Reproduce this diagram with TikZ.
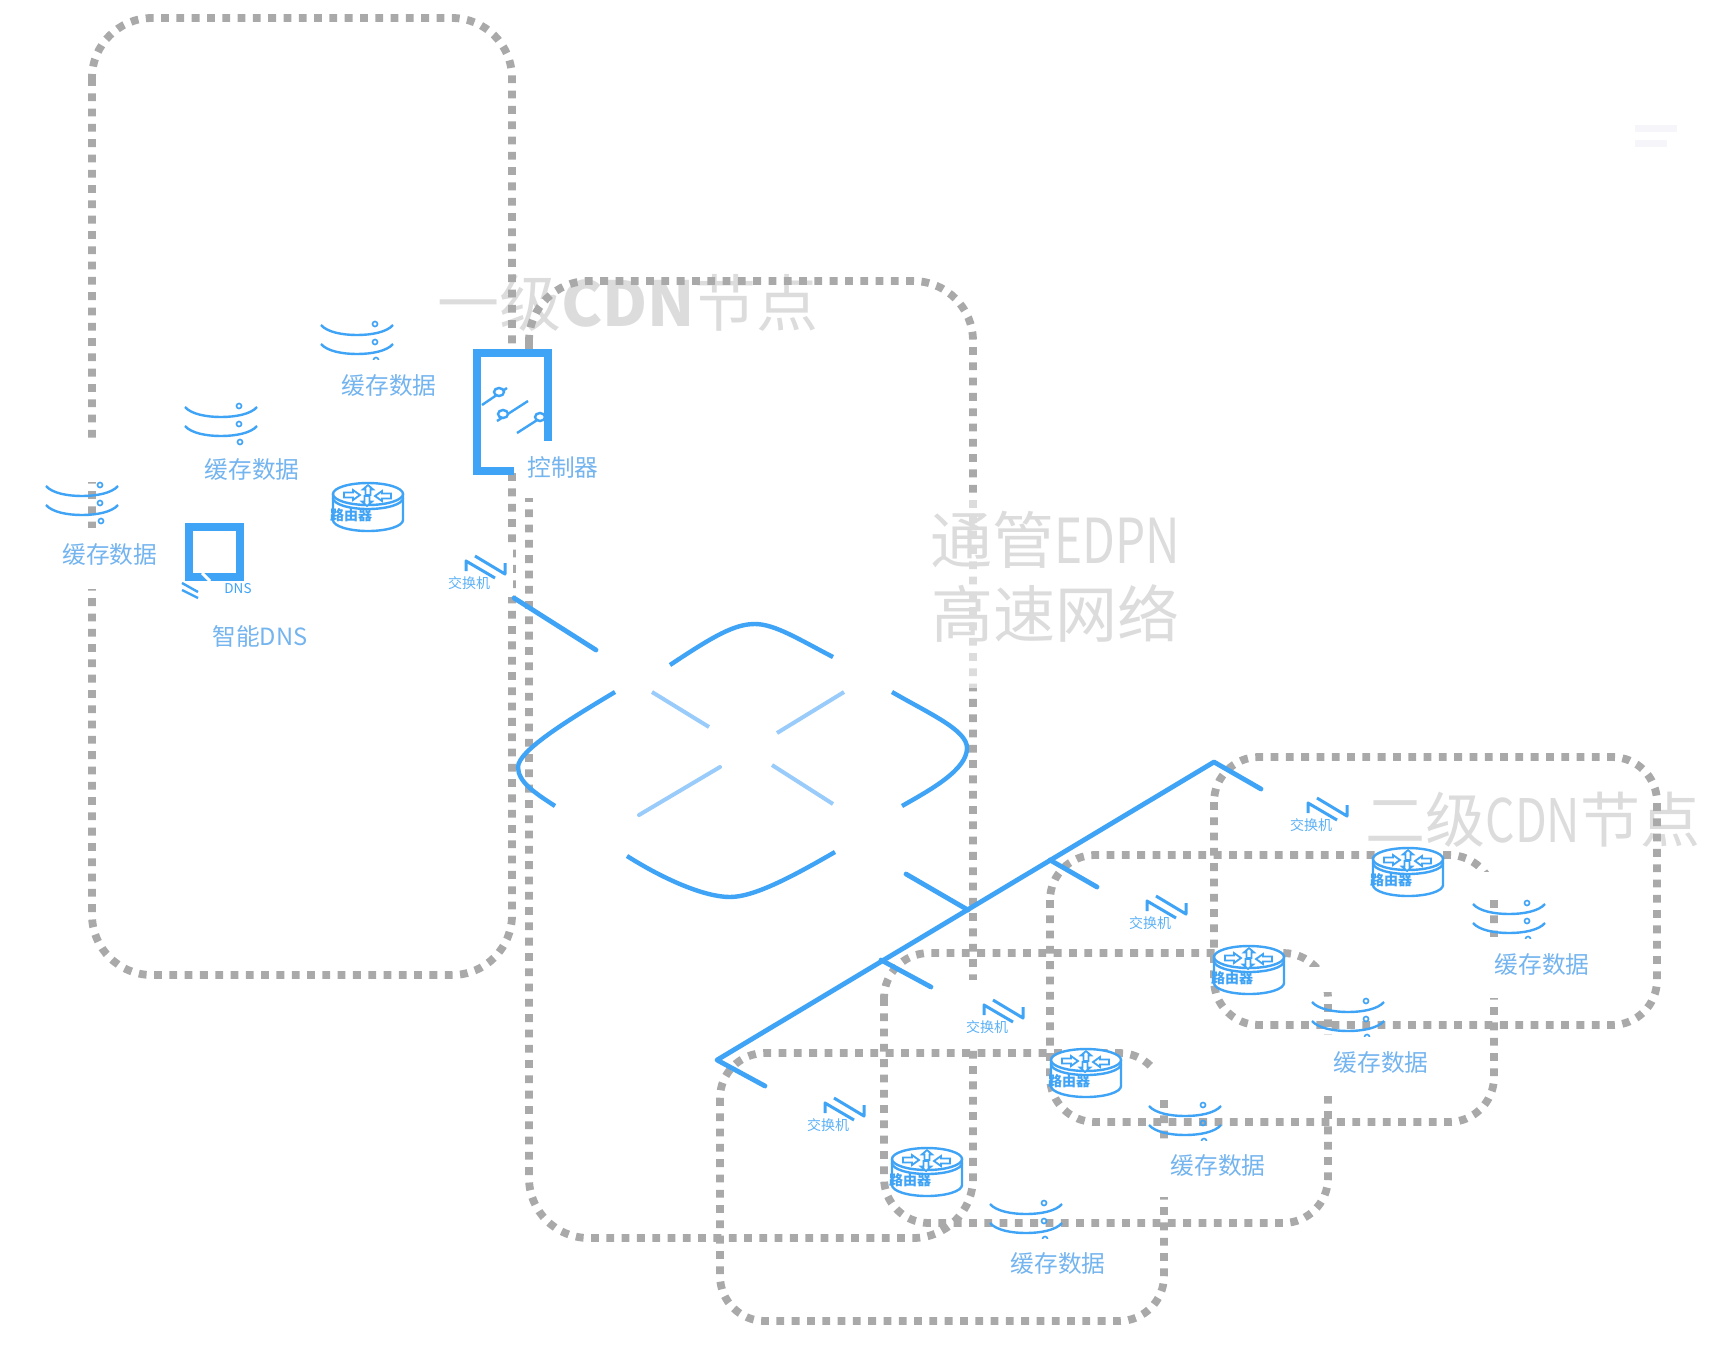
\documentclass[tikz,border=0pt]{standalone}
\usepackage{fontspec}
\setmainfont{Noto Sans CJK SC}
\usepackage{tikz}
\definecolor{cdnblue}{HTML}{3FA3F6}
\definecolor{lightblue}{HTML}{99CCFA}
\definecolor{labelblue}{HTML}{74B4EF}
\definecolor{dotgray}{HTML}{A9A9A9}
\definecolor{titlegray}{HTML}{DCDCDC}
\definecolor{barwhite}{HTML}{F5F5FA}
\newcommand{\narrowlatin}[1]{\scalebox{.77}[1]{#1}}

\begin{document}
\begin{tikzpicture}[
        x=0.5pt, y=-0.5pt,
        dotbox/.style={draw=dotgray, line width=3.9pt, dash pattern=on 3.9pt off 3.75pt, rounded corners=22.5pt},
        bigdotbox/.style={dotbox, rounded corners=30pt},
        maskbox/.style={fill=white, draw=none},
        mainline/.style={draw=cdnblue, line width=2.4pt, line cap=round},
        curveline/.style={draw=cdnblue, line width=2.2pt},
        paleline/.style={draw=lightblue, line width=2pt},
        iconframe/.style={draw=cdnblue, line width=3.6pt, miter limit=10},
        thinblue/.style={draw=cdnblue, line width=1.2pt},
        title/.style={text=titlegray, font=\fontsize{31}{34}\selectfont, inner sep=0pt},
        biglabel/.style={text=labelblue, font=\fontsize{11.85}{13}\selectfont, inner sep=0pt},
        swlabel/.style={text=cdnblue!85!white, font=\fontsize{7}{8}\selectfont, inner sep=0pt},
        routerlabel/.style={text=cdnblue, font=\fontsize{7}{8}\selectfont\bfseries, inner sep=0pt},
        pics/keyarrow/.style={code={
            \draw[cdnblue, line width=0.9pt, fill=white] (-8,-2.5) -- (1,-2.5) -- (1,-5) -- (8,0) -- (1,5) -- (1,2.5) -- (-8,2.5) -- cycle;
        }},
        pics/routerpic/.style={code={
            \draw[thinblue, fill=white] (-35,0) -- (-35,26) arc[start angle=180, end angle=0, x radius=35, y radius=11] -- (35,0);
            \draw[thinblue, fill=white] (0,0) ellipse[x radius=35, y radius=11];
            \draw[thinblue] (-35,4) arc[start angle=180, end angle=0, x radius=35, y radius=11];
            \pic at (-16,1) {keyarrow};
            \pic[rotate=180] at (15,2) {keyarrow};
            \pic[rotate=90, xscale=.62] at (0,-4) {keyarrow};
            \pic[rotate=-90, xscale=.62] at (-1,7) {keyarrow};
            \node[routerlabel] (-label) at (-17,21) {路由器};
        }},
        pics/cachepic/.style={code={
            \draw[thinblue] (-36,0) .. controls (-30,7) and (-15,10) .. (0,10) .. controls (15,10) and (30,7) .. (36,0);
            \draw[thinblue] (-36,19) .. controls (-30,26) and (-15,29) .. (0,29) .. controls (15,29) and (30,26) .. (36,19);
            \begin{scope}
                \clip (-50,-20) rectangle (50,#1);
                \draw[cdnblue, line width=0.8pt] (18,-1) circle[radius=2.5];
                \draw[cdnblue, line width=0.8pt] (18,17) circle[radius=2.5];
                \draw[cdnblue, line width=0.8pt] (19,35) circle[radius=2.5];
            \end{scope}
        }},
        pics/swpic/.style={code={
            \draw[cdnblue, line width=1.5pt, line join=round] (-3,-12) -- (-3,-22) -- (26,-5);
            \draw[cdnblue, line width=1.5pt, line join=round] (6,-27) -- (36,-9) -- (36,-20);
            \node[swlabel] (-label) at (0,0) {交换机};
        }}
    ]
    \useasboundingbox (0,0) rectangle (1723,1361);
    \fill[white] (0,0) rectangle (1723,1361);
    % titles under the dotted frames
    \node[title] (levelone) at (628,303) {一级{\bfseries CDN}节点};
    \node[title, font=\fontsize{30}{33}\selectfont] (leveltwo) at (1533,820) {二级\narrowlatin{CDN}节点};
    % node frames
    \draw[bigdotbox] (92,18) rectangle (512,975);
    \draw[bigdotbox] (529,281) rectangle (973,1238);
    \draw[dotbox] (720,1053) rectangle (1164,1321);
    \draw[dotbox] (884,953) rectangle (1328,1223);
    \draw[dotbox] (1050,855) rectangle (1494,1122);
    \draw[dotbox] (1214,757) rectangle (1657,1025);
    % white and faded cut-outs
    \fill[white, opacity=.6] (930,500) rectangle (1180,688);
    \fill[maskbox] (50,442) rectangle (150,482);
    \fill[maskbox] (50,528) rectangle (150,589);
    \fill[maskbox] (477,350) rectangle (548,470);
    \fill[maskbox] (520,470) rectangle (600,498);
    \fill[maskbox] (450,543) rectangle (513,597);
    \fill[maskbox] (945,980) rectangle (1040,1049);
    \fill[maskbox] (1147,1069) rectangle (1260,1097);
    \fill[maskbox] (1147,1139) rectangle (1260,1197);
    \fill[maskbox] (1310,967) rectangle (1420,992);
    \fill[maskbox] (1310,1035) rectangle (1420,1096);
    \fill[maskbox] (1472,872) rectangle (1580,895);
    \fill[maskbox] (1472,937) rectangle (1580,998);
    \node[title] (netone) at (1055,540) {通管\narrowlatin{EDPN}};
    \node[title] (nettwo) at (1055,613) {高速网络};
    % backbone
    \draw[mainline] (514,598) -- (596,650);
    \draw[curveline] (670,665) .. controls (715,635) and (735,624) .. (755,624) .. controls (775,624) and (800,640) .. (833,657);
    \draw[curveline] (615,692) .. controls (575,716) and (518,750) .. (518,767) .. controls (518,782) and (535,793) .. (555,806);
    \draw[curveline] (892,692) .. controls (930,714) and (967,730) .. (967,748) .. controls (967,770) and (930,790) .. (902,806);
    \draw[curveline] (627,856) .. controls (665,880) and (705,897) .. (730,897) .. controls (755,897) and (795,875) .. (835,852);
    \draw[paleline] (652,692) -- (709,727);
    \draw[paleline] (777,733) -- (844,692);
    \draw[paleline, line cap=round] (720,767) -- (639,815);
    \draw[paleline] (772,765) -- (833,804);
    \draw[mainline] (906,874) -- (968,910);
    \draw[mainline, line join=round] (1261,789) -- (1214,762) -- (717,1060) -- (765,1086);
    \draw[mainline] (1050,860) -- (1097,887);
    \draw[mainline] (881,960) -- (931,987);
    % controller
    \draw[iconframe] (514,471) -- (477,471) -- (477,353) -- (548,353) -- (548,441);
    \draw[thinblue] (482,405) -- (507,388);
    \draw[thinblue] (497,421) -- (528,401);
    \draw[thinblue] (517,433) -- (545,415);
    \draw[thinblue, fill=white] (499,392) ellipse[x radius=5, y radius=4];
    \draw[thinblue, fill=white] (503,414) ellipse[x radius=5, y radius=4];
    \draw[thinblue, fill=white] (540,417) ellipse[x radius=5, y radius=4];
    \node[biglabel] (ctrllabel) at (563,467) {控制器};
    % smart dns
    \draw[iconframe] (189,527) rectangle (240,577);
    \draw[white, line width=1.5pt] (202,573) -- (210,581);
    \draw[cdnblue, line width=1.2pt] (182,583) -- (198,592);
    \draw[cdnblue, line width=1.2pt] (182,590) -- (198,598);
    \node[routerlabel, font=\fontsize{6.75}{8}\selectfont] (dnsmark) at (238,589) {DNS};
    \node[biglabel] (dnslabel) at (260,636) {智能DNS};
    % routers
    \pic (router1) at (368,494) {routerpic};
    \pic (router2) at (927,1159) {routerpic};
    \pic (router3) at (1086,1060) {routerpic};
    \pic (router4) at (1249,957) {routerpic};
    \pic (router5) at (1408,859) {routerpic};
    % switches
    \pic (switch1) at (469,583) {swpic};
    \pic (switch2) at (828,1125) {swpic};
    \pic (switch3) at (987,1027) {swpic};
    \pic (switch4) at (1150,923) {swpic};
    \pic (switch5) at (1311,825) {swpic};
    % cache
    \pic (cache1) at (357,325) {cachepic=34};
    \pic (cache2) at (221,407) {cachepic=50};
    \pic (cache3) at (82,486) {cachepic=50};
    \pic (cache4) at (1026,1204) {cachepic=34};
    \pic (cache5) at (1185,1106) {cachepic=34};
    \pic (cache6) at (1348,1002) {cachepic=34};
    \pic (cache7) at (1509,904) {cachepic=34};
    \node[biglabel] (cachelabel1) at (389,386) {缓存数据};
    \node[biglabel] (cachelabel2) at (252,470) {缓存数据};
    \node[biglabel] (cachelabel3) at (110,555) {缓存数据};
    \node[biglabel] (cachelabel4) at (1058,1263) {缓存数据};
    \node[biglabel] (cachelabel5) at (1218,1165) {缓存数据};
    \node[biglabel] (cachelabel6) at (1381,1062) {缓存数据};
    \node[biglabel] (cachelabel7) at (1542,964) {缓存数据};
    % faint bars top right
    \fill[barwhite] (1635,125) rectangle (1677,132);
    \fill[barwhite] (1635,140) rectangle (1667,147);
\end{tikzpicture}
\end{document}
